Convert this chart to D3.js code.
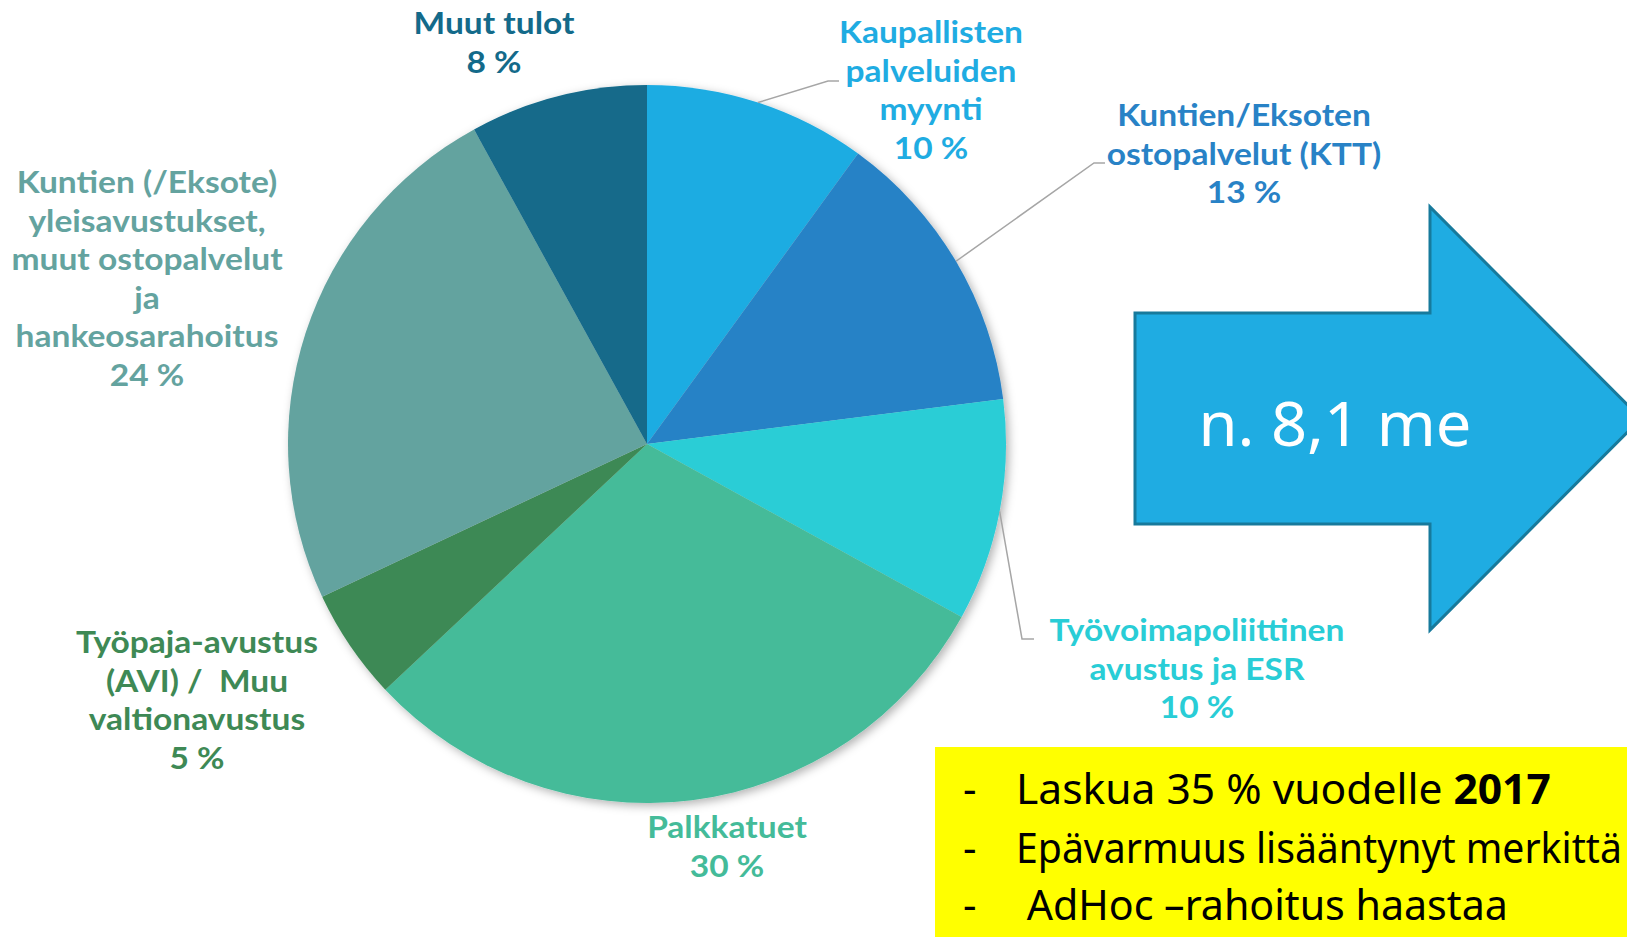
<!DOCTYPE html>
<html><head><meta charset="utf-8">
<script src="https://cdn.jsdelivr.net/npm/d3@7"></script>
<style>html,body{margin:0;padding:0;background:#fff;overflow:hidden} text{white-space:pre}</style>
</head><body>
<svg id="c" width="1627" height="937"></svg>
<script>
// ---- data ----
const categories = [
  ["Kaupallisten","palveluiden","myynti"],
  ["Kuntien/Eksoten","ostopalvelut (KTT)"],
  ["Työvoimapoliittinen","avustus ja ESR"],
  ["Palkkatuet"],
  ["Työpaja-avustus","(AVI) /  Muu","valtionavustus"],
  ["Kuntien (/Eksote)","yleisavustukset,","muut ostopalvelut","ja","hankeosarahoitus"],
  ["Muut tulot"]
];
const values = [10, 13, 10, 30, 5, 24, 8];
const colors = ["#1FACE2","#2882C6","#29CDD6","#44BB99","#3E8955","#64A39F","#136A8A"];
const totalLabel = "n. 8,1 me";
const notes = ["Laskua 35 % vuodelle ", "Epävarmuus lisääntynyt merkittä", " AdHoc –rahoitus haastaa"];
const noteBold = "2017";

// ---- layout ----
const W = 1627, H = 937;
const cx = 647, cy = 444, R = 359;
const labelPos = [
  {x: 931, y: 43, leader: [[828, 81], [839, 81]]},
  {x: 1244, y: 126, leader: [[1094, 163], [1105, 163]]},
  {x: 1197, y: 641, leader: [[1022, 639], [1034, 639]]},
  {x: 727, y: 838},
  {x: 197, y: 653},
  {x: 147, y: 193},
  {x: 494, y: 34}
];
const lineH = 38.6;
const labelFont = "Lato, 'Open Sans', 'DejaVu Sans', sans-serif";

const svg = d3.select("#c");
const defs = svg.append("defs");
const f = defs.append("filter").attr("id","sh").attr("x","-10%").attr("y","-10%").attr("width","120%").attr("height","120%");
f.append("feDropShadow").attr("dx",3).attr("dy",3).attr("stdDeviation",5).attr("flood-color","#000").attr("flood-opacity",0.3);

const pie = d3.pie().sort(null).value(d => d)(values);
const arc = d3.arc().innerRadius(0).outerRadius(R);

const pg = svg.append("g").attr("transform", `translate(${cx},${cy})`).attr("filter","url(#sh)");
pg.selectAll("path").data(pie).join("path")
  .attr("d", arc).attr("fill", (d,i) => colors[i]);

// leader lines
pie.forEach((d,i) => {
  const lp = labelPos[i];
  if (!lp.leader) return;
  const a = (d.startAngle + d.endAngle)/2;
  const sx = cx + R*Math.sin(a), sy = cy - R*Math.cos(a);
  const pts = [[sx,sy], ...lp.leader];
  svg.append("path").attr("d", d3.line()(pts)).attr("fill","none")
    .attr("stroke","#A6A6A6").attr("stroke-width",1.5);
});

// pie labels
const lg = svg.append("g");
const labelGroups = [];
pie.forEach((d,i) => {
  const lp = labelPos[i];
  const g = lg.append("g");
  const t = g.append("text").attr("text-anchor","middle")
    .attr("font-family", labelFont).attr("font-weight", 700)
    .attr("font-size", 30).attr("fill", colors[i]);
  const lines = [...categories[i], values[i] + " %"];
  lines.forEach((ln, j) => {
    t.append("tspan").attr("x", 0).attr("y", j*lineH).text(ln);
  });
  labelGroups.push({g, lp, t});
});
// horizontal compression to match condensed original font
const probe = svg.append("text").attr("font-family", labelFont).attr("font-weight",700)
  .attr("font-size",30).text("hankeosarahoitus");
const kLab = 263 / probe.node().getComputedTextLength();
probe.remove();
labelGroups.forEach(({g, lp}) => g.attr("transform", `translate(${lp.x},${lp.y}) scale(${kLab},1)`));

// arrow
const bodyL = 1135, bodyT = 313, bodyB = 524, headX = 1430, headT = 207, headB = 630, tipX = 1641;
const midY = (headT + headB)/2;
const arrowPts = [[bodyL,bodyT],[headX,bodyT],[headX,headT],[tipX,midY],[headX,headB],[headX,bodyB],[bodyL,bodyB]];
svg.append("path").attr("d", d3.line()(arrowPts) + "Z")
  .attr("fill","#1FACE2").attr("stroke","#177A9C").attr("stroke-width",3).attr("stroke-linejoin","miter");
const at = svg.append("text").attr("x",0).attr("y",0)
  .attr("font-family","'Noto Sans', Lato, sans-serif").attr("font-size",62).attr("fill","#fff")
  .attr("text-anchor","start").text(totalLabel);
const atw = at.node().getComputedTextLength();
const ka = 273 / atw;
at.attr("transform", `translate(${1335 - 273/2},446) scale(${ka},1)`);

// yellow note box
svg.append("rect").attr("x",935).attr("y",747).attr("width",W-935).attr("height",H-747).attr("fill","#FFFF00");
const noteFont = "'Noto Sans', Lato, sans-serif";
const noteY = [804, 863, 920];
const noteX = [1016, 1016, 1016];
const noteW = [535, 606, 492];
const noteG = svg.append("g");
notes.forEach((n,i) => {
  noteG.append("text").attr("x",963).attr("y",noteY[i]).attr("font-family",noteFont)
    .attr("font-size",42).attr("fill","#000").text("-");
  const t = noteG.append("text").attr("x",0).attr("y",0).attr("font-family",noteFont)
    .attr("font-size",42).attr("fill","#000");
  t.append("tspan").text(n);
  if (i === 0) t.append("tspan").attr("font-weight",700).text(noteBold);
  const k = noteW[i] / t.node().getComputedTextLength();
  t.attr("transform", `translate(${noteX[i]},${noteY[i]}) scale(${k},1)`);
});
</script>
</body></html>
